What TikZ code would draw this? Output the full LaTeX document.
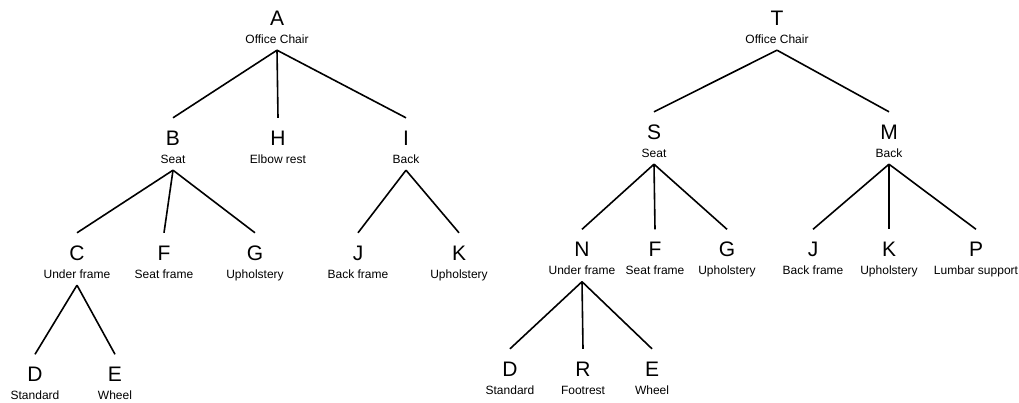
\documentclass[tikz,border=0pt]{standalone}
\usepackage{fontspec}
\setmainfont{Liberation Sans}
\tikzset{
  partcode/.style={anchor=base, inner sep=0pt, text height=27pt, text depth=0pt,
                   font=\fontsize{21}{21}\selectfont},
  partname/.style={anchor=base, inner sep=0pt, text height=9pt, text depth=7pt,
                   font=\fontsize{12}{12}\selectfont},
  link/.style={draw=black, line width=1.6pt},
}
% #1 name, #2 x, #3 baseline y of the code letter, #4 letter, #5 part name
\newcommand{\chairpart}[5]{%
  \node[partcode] (#1) at (#2,#3) {#4};
  \node[partname] (#1l) at (#2,#3+18) {#5};
}
\begin{document}
\begin{tikzpicture}[x=1pt,y=-1pt]
\useasboundingbox (0,0) rectangle (1019,402);

% ---- first structure ----
\chairpart{A}{277}{25}{A}{Office Chair}
\chairpart{B}{173}{145}{B}{Seat}
\chairpart{H}{278}{145}{H}{Elbow rest}
\chairpart{I}{406}{145}{I}{Back}
\chairpart{C}{77}{260}{C}{Under frame}
\chairpart{F}{164}{260}{F}{Seat frame}
\chairpart{G}{255}{260}{G}{Upholstery}
\chairpart{J}{358}{260}{J}{Back frame}
\chairpart{K}{459}{260}{K}{Upholstery}
\chairpart{D}{35}{381.5}{D}{Standard}
\chairpart{E}{115}{381.5}{E}{Wheel}

\foreach \p/\c in {A/B, A/H, A/I, B/C, B/F, B/G, I/J, I/K, C/D, C/E}
  \draw[link] (\p l.south) -- (\c.north);

% ---- second structure ----
\chairpart{rT}{777}{25}{T}{Office Chair}
\chairpart{rS}{654}{139}{S}{Seat}
\chairpart{rM}{889}{139}{M}{Back}
\chairpart{rN}{582}{256.5}{N}{Under frame}
\chairpart{rF}{655}{256.5}{F}{Seat frame}
\chairpart{rG}{727}{256.5}{G}{Upholstery}
\chairpart{rJ}{813}{256.5}{J}{Back frame}
\chairpart{rK}{889}{256.5}{K}{Upholstery}
\chairpart{rP}{976}{256.5}{P}{Lumbar support}
\chairpart{rD}{510}{376}{D}{Standard}
\chairpart{rR}{583}{376}{R}{Footrest}
\chairpart{rE}{652}{376}{E}{Wheel}

\foreach \p/\c in {rT/rS, rT/rM, rS/rN, rS/rF, rS/rG, rM/rJ, rM/rK, rM/rP, rN/rD, rN/rR, rN/rE}
  \draw[link] (\p l.south) -- (\c.north);
\end{tikzpicture}
\end{document}
